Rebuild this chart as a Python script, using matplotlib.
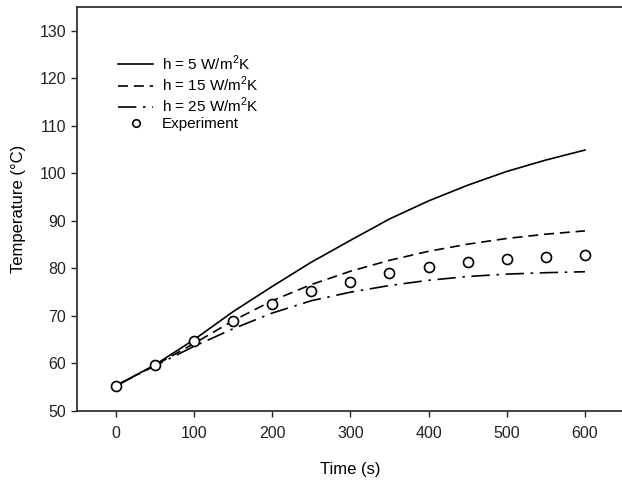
import matplotlib
matplotlib.use("Agg")
import matplotlib.pyplot as plt

plt.rcParams['font.family'] = ['Liberation Sans', 'DejaVu Sans']
plt.rcParams['mathtext.fontset'] = 'custom'
plt.rcParams['mathtext.rm'] = 'Liberation Sans'

# time grid (s)
t = [0, 50, 100, 150, 200, 250, 300, 350, 400, 450, 500, 550, 600]

# model curves for three convection coefficients
T_h5 = [55.3, 59.7, 65.0, 70.9, 76.2, 81.3, 85.9, 90.4, 94.2, 97.5, 100.4, 102.8, 104.9]
T_h15 = [55.3, 59.6, 64.2, 69.0, 73.2, 76.6, 79.4, 81.7, 83.6, 85.1, 86.3, 87.2, 87.9]
T_h25 = [55.3, 59.5, 63.6, 67.3, 70.6, 73.2, 75.0, 76.4, 77.5, 78.3, 78.8, 79.1, 79.3]

# measured temperatures
t_exp = [0, 50, 100, 150, 200, 250, 300, 350, 400, 450, 500, 550, 600]
T_exp = [55.3, 59.7, 64.7, 68.9, 72.5, 75.3, 77.2, 79.1, 80.4, 81.3, 81.9, 82.4, 82.8]

fig = plt.figure(figsize=(6.22, 4.82), dpi=100)
ax = fig.add_axes([0.1233, 0.1473, 0.8800, 0.8382])

ax.plot(t, T_h5, color='black', lw=1.2, label='h = 5 W/m$^2$K')
ax.plot(t, T_h15, color='black', lw=1.2, dashes=(6, 3.5), label='h = 15 W/m$^2$K')
ax.plot(t, T_h25, color='black', lw=1.2, dashes=(11, 4, 1.5, 4), label='h = 25 W/m$^2$K')
ax.plot(t_exp, T_exp, 'o', ms=7.2, mfc='white', mec='black', mew=1.2,
        linestyle='none', label='Experiment')

ax.set_xlim(-50, 650)
ax.set_ylim(50, 135)
ax.set_xticks(range(0, 601, 100))
ax.set_yticks(range(50, 131, 10))
ax.tick_params(direction='out', length=4, width=1, labelsize=11.5, colors='#222222')
ax.tick_params(axis='x', pad=7)
for s in ['left', 'bottom', 'top']:
    ax.spines[s].set_linewidth(1.3)
    ax.spines[s].set_color('#333333')
ax.spines['right'].set_visible(False)

ax.set_xlabel('Time (s)', fontsize=12, labelpad=15)
ax.set_ylabel('Temperature (°C)', fontsize=12, labelpad=10)

ax.legend(loc='upper left', bbox_to_anchor=(0.0755, 0.885), frameon=False,
          fontsize=11, handlelength=2.3, handletextpad=0.55, labelspacing=0.12,
          borderaxespad=0, borderpad=0, markerscale=0.75)

fig.savefig('out.png', dpi=100)
